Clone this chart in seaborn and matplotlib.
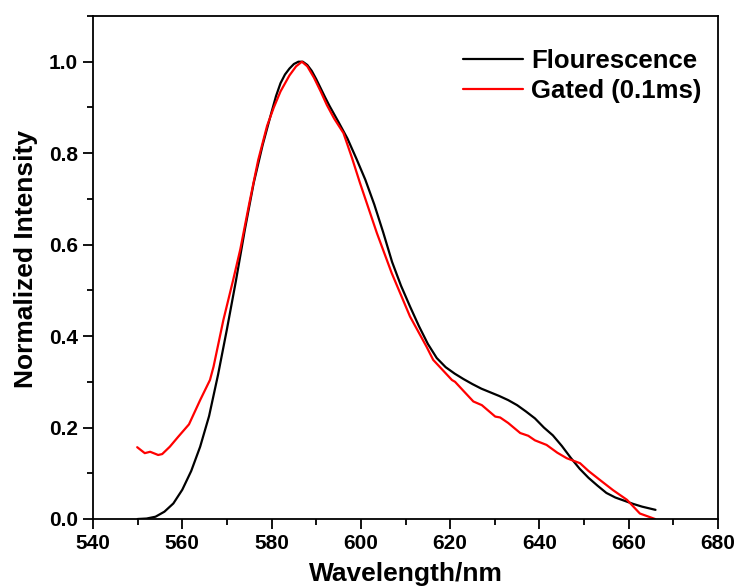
import matplotlib
matplotlib.use("Agg")
import matplotlib.pyplot as plt
from matplotlib.ticker import MultipleLocator
import seaborn as sns
import pandas as pd

fl_x = [550, 552, 554, 556, 558, 560, 562, 564, 566, 568, 570, 572, 574, 576, 578,
        580, 581, 582, 583, 584, 585, 586, 587, 588, 589, 590, 591, 592, 593, 595,
        597, 599, 601, 603, 605, 607, 609, 611, 613, 615, 617, 619, 621, 623, 625,
        627, 629, 631, 633, 635, 637, 639, 641, 643, 645, 647, 649, 651, 653, 655,
        657, 659, 661, 663, 666]
fl_y = [0.0, 0.001, 0.005, 0.016, 0.034, 0.064, 0.105, 0.158, 0.225, 0.315, 0.415,
        0.52, 0.632, 0.735, 0.818, 0.89, 0.925, 0.953, 0.972, 0.985, 0.995, 1.0, 1.0,
        0.993, 0.98, 0.962, 0.942, 0.922, 0.903, 0.868, 0.832, 0.788, 0.742, 0.688,
        0.627, 0.562, 0.51, 0.465, 0.422, 0.383, 0.352, 0.332, 0.318, 0.306, 0.295,
        0.285, 0.277, 0.269, 0.26, 0.249, 0.235, 0.22, 0.2, 0.183, 0.16, 0.134, 0.11,
        0.09, 0.073, 0.057, 0.047, 0.04, 0.033, 0.027, 0.02]

gt_x = [549.9, 551.6, 552.8, 554.6, 555.5, 557.2, 559.1, 561.5, 564, 566.2, 567,
        569.2, 571.4, 573, 575, 577, 579, 580.5, 582, 584, 585.5, 586.8, 588, 589.5,
        591, 592.4, 594, 596.1, 598, 599.8, 603.6, 606.9, 611, 614.7, 616.2, 620.4,
        621.1, 623, 625.2, 627.1, 630.1, 631.2, 633, 635.7, 637.5, 639, 641.6, 644,
        646.1, 649.1, 651, 653.6, 656.5, 659.6, 662.5, 665.9]
gt_y = [0.157, 0.144, 0.147, 0.140, 0.142, 0.158, 0.18, 0.207, 0.26, 0.304, 0.333,
        0.435, 0.523, 0.59, 0.69, 0.785, 0.86, 0.9, 0.935, 0.97, 0.99, 1.0, 0.99,
        0.965, 0.935, 0.905, 0.876, 0.844, 0.79, 0.735, 0.625, 0.538, 0.443, 0.377,
        0.348, 0.304, 0.30, 0.28, 0.257, 0.249, 0.224, 0.222, 0.21, 0.188, 0.182,
        0.172, 0.162, 0.145, 0.133, 0.122, 0.105, 0.085, 0.063, 0.042, 0.012, 0.0]

labels = ["Flourescence", "Gated (0.1ms)"]

sns.set_style("ticks")
plt.rcParams['font.family'] = ['Liberation Sans', 'DejaVu Sans']
plt.rcParams['font.weight'] = 'bold'
for k in ['text.color', 'axes.labelcolor', 'xtick.color', 'ytick.color', 'axes.edgecolor']:
    plt.rcParams[k] = 'black'

fig = plt.figure(figsize=(7.39, 5.88), dpi=100)
ax = fig.add_axes([93/739, 1-519/588, (718-93)/739, (519-16)/588])

df_fl = pd.DataFrame({"x": fl_x, "y": fl_y})
df_gt = pd.DataFrame({"x": gt_x, "y": gt_y})
sns.lineplot(data=df_fl, x="x", y="y", ax=ax, color="black", lw=1.6, label=labels[0],
             sort=False, estimator=None)
sns.lineplot(data=df_gt, x="x", y="y", ax=ax, color="#ff0000", lw=1.6, label=labels[1],
             sort=False, estimator=None)

ax.set_xlim(540, 680)
ax.set_ylim(0, 1.1)
ax.xaxis.set_major_locator(MultipleLocator(20))
ax.xaxis.set_minor_locator(MultipleLocator(10))
ax.yaxis.set_major_locator(MultipleLocator(0.2))
ax.yaxis.set_minor_locator(MultipleLocator(0.1))
ax.set_yticks([0.0, 0.2, 0.4, 0.6, 0.8, 1.0])
ax.set_yticklabels(["0.0", "0.2", "0.4", "0.6", "0.8", "1.0"])
for s in ax.spines.values():
    s.set_linewidth(1.3)
    s.set_color('black')
    s.set_visible(True)
ax.tick_params(which='major', direction='out', length=7, width=1.3, labelsize=15, pad=4,
               colors='black')
ax.tick_params(which='minor', direction='out', length=4.5, width=1.3, colors='black')
ax.tick_params(top=False, right=False, which='both')
for t in ax.get_xticklabels() + ax.get_yticklabels():
    t.set_fontweight('bold')

ax.set_xlabel("Wavelength/nm", fontsize=19, fontweight='bold', color='black')
ax.set_ylabel("Normalized Intensity", fontsize=19, fontweight='bold', color='black')
ax.xaxis.set_label_coords(0.5, -(562-519)/503)
ax.yaxis.set_label_coords(-(93-38)/625, (519-259)/503)

leg = ax.legend(loc='upper left', bbox_to_anchor=(463/739, 1-49/588),
                bbox_transform=fig.transFigure, frameon=False,
                prop={'size': 18.5, 'weight': 'bold'}, handlelength=2.33,
                handletextpad=0.31, borderpad=0, borderaxespad=0, labelspacing=0.25)
for t in leg.get_texts():
    t.set_color('black')
for h in leg.get_lines():
    h.set_linewidth(1.6)

fig.savefig("out.png", dpi=100)
